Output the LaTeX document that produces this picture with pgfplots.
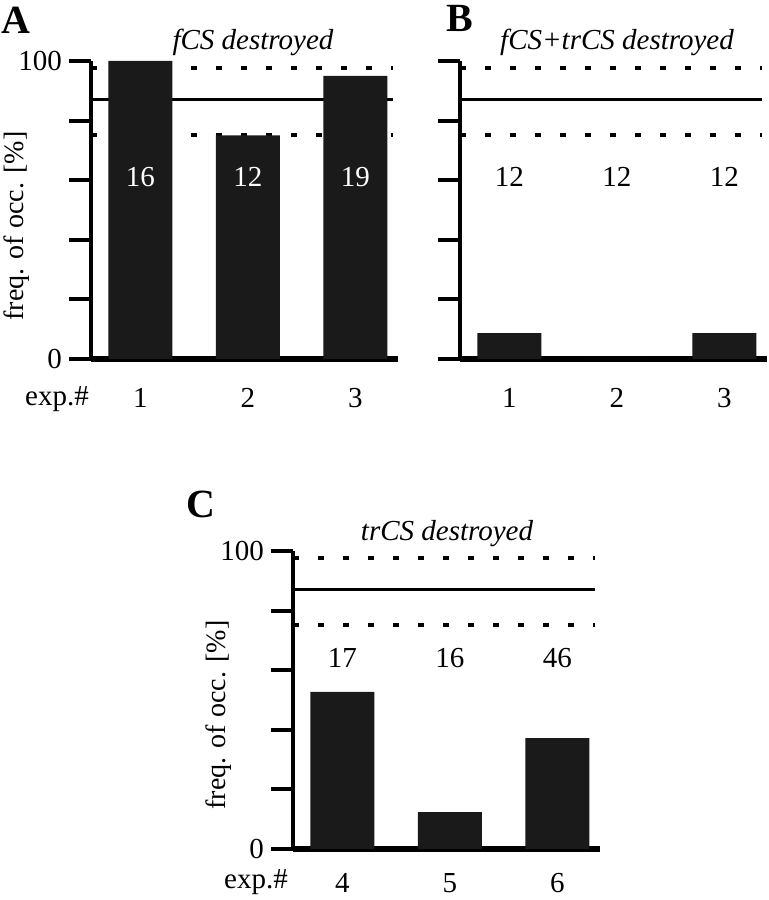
\documentclass[border=0pt]{standalone}
\usepackage{fontspec}
\setmainfont{Liberation Serif}
\usepackage{pgfplots}
\pgfplotsset{compat=1.18}
\definecolor{barblack}{HTML}{1A1A1A}
\newcommand{\fs}{\fontsize{14.5}{16}\selectfont}
\pgfplotsset{
 panel/.style={
  scale only axis, width=153.7pt, height=149pt,
  xmin=0.54, xmax=3.4, ymin=0, ymax=100,
  axis x line*=bottom, axis y line*=left,
  x axis line style={line width=3pt},
  y axis line style={line width=2pt},
  xtick={1,2,3}, xtick style={draw=none},
  ytick={0,20,40,60,80,100},
  ytick style={line width=2pt, black},
  tick align=outside, major tick length=11pt,
  every tick label/.append style={font=\fs},
  /pgf/number format/assume math mode=true,
  xticklabel style={yshift=0pt},
  clip=false,
  anchor=south west,
 },
 bars/.style={ybar, bar width=0.595, bar shift=0pt, fill=barblack, draw=none},
 meanline/.style={line width=1.5pt, black},
 sdline/.style={line width=2pt, black, dash pattern=on 3.2pt off 9.3pt},
}
\begin{document}
\begin{tikzpicture}
\path[use as bounding box] (0,0) rectangle (384.5pt,450pt);
% Panel A
\begin{axis}[panel, at={(45.5pt,270.5pt)}, yticklabels={0,,,,,100}, xticklabels={1,2,3}]
\addplot[sdline] coordinates {(0.54,97.5) (3.35,97.5)};
\addplot[sdline] coordinates {(0.54,75) (3.35,75)};
\addplot[meanline] coordinates {(0.54,87) (3.35,87)};
\addplot[bars] coordinates {(1,100) (2,75) (3,95)};
\node[white, font=\fs] at (axis cs:1,61) {16};
\node[white, font=\fs] at (axis cs:2,61) {12};
\node[white, font=\fs] at (axis cs:3,61) {19};
\end{axis}
% Panel B
\begin{axis}[panel, at={(230pt,270.5pt)}, yticklabels={}, xticklabels={1,2,3}]
\addplot[sdline] coordinates {(0.54,97.5) (3.35,97.5)};
\addplot[sdline] coordinates {(0.54,75) (3.35,75)};
\addplot[meanline] coordinates {(0.54,87) (3.35,87)};
\addplot[bars] coordinates {(1,8.7) (2,0) (3,8.7)};
\node[font=\fs] at (axis cs:1,61) {12};
\node[font=\fs] at (axis cs:2,61) {12};
\node[font=\fs] at (axis cs:3,61) {12};
\end{axis}
% Panel C
\begin{axis}[panel, at={(146.5pt,25.5pt)}, yticklabels={0,,,,,100}, xticklabels={4,5,6}, xticklabel style={yshift=2.5pt}]
\addplot[sdline] coordinates {(0.54,97.5) (3.35,97.5)};
\addplot[sdline] coordinates {(0.54,75) (3.35,75)};
\addplot[meanline] coordinates {(0.54,87) (3.35,87)};
\addplot[bars] coordinates {(1,52.7) (2,12.4) (3,37.2)};
\node[font=\fs] at (axis cs:1,64) {17};
\node[font=\fs] at (axis cs:2,64) {16};
\node[font=\fs] at (axis cs:3,64) {46};
\end{axis}
% labels
\node[font=\bfseries\fontsize{20}{22}\selectfont] at (8pt,440pt) {A};
\node[font=\bfseries\fontsize{20}{22}\selectfont] at (229.75pt,441pt) {B};
\node[font=\bfseries\fontsize{20}{22}\selectfont] at (100.5pt,198pt) {C};
\node[font=\itshape\fs] at (126.5pt,429pt) {fCS destroyed};
\node[font=\itshape\fs] at (308.5pt,429pt) {fCS+trCS destroyed};
\node[font=\itshape\fs] at (223.5pt,183pt) {trCS destroyed};
\node[font=\fs] at (28.5pt,250.5pt) {exp.\#};
\node[font=\fs] at (128pt,9pt) {exp.\#};
\node[font=\fontsize{14}{16}\selectfont, rotate=90] at (8.5pt,337pt) {freq. of occ. [\%]};
\node[font=\fontsize{14}{16}\selectfont, rotate=90] at (109.5pt,92.5pt) {freq. of occ. [\%]};
\end{tikzpicture}
\end{document}
